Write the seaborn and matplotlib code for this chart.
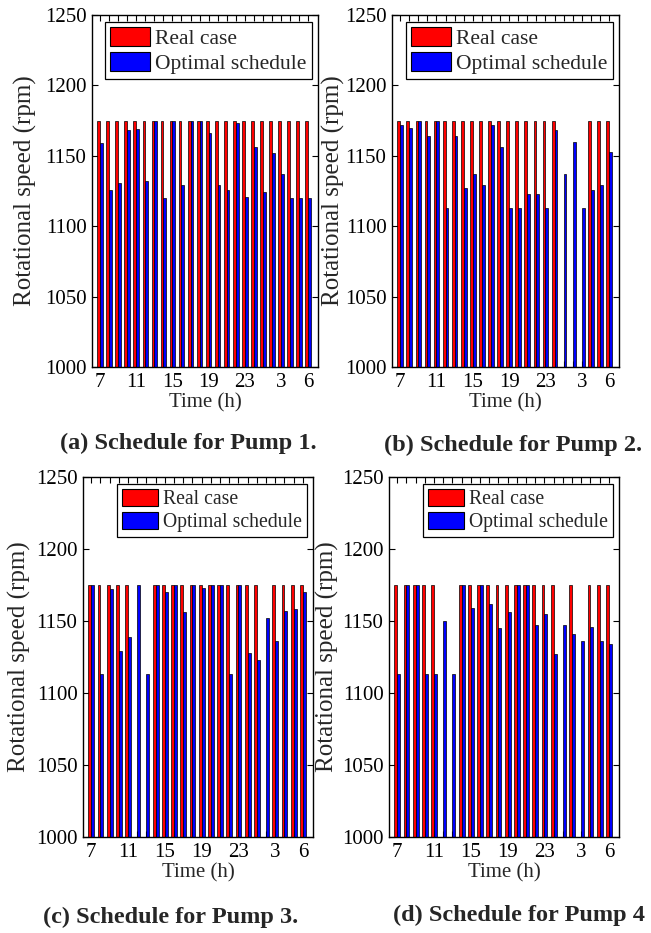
import matplotlib
matplotlib.use("Agg")
import matplotlib.pyplot as plt
import seaborn as sns
import pandas as pd

# ---------------- data ----------------
hour_labels = ['7', '8', '9', '10', '11', '12', '13', '14', '15', '16', '17', '18',
               '19', '20', '21', '22', '23', '0', '1', '2', '3', '4', '5', '6']
shown_ticks = ['7', '11', '15', '19', '23', '3', '6']
series_names = ['Real case', 'Optimal schedule']

p1_real = [1175, 1175, 1175, 1175, 1175, 1175, 1175, 1175, 1175, 1175, 1175, 1175,
           1175, 1175, 1175, 1175, 1175, 1175, 1175, 1175, 1175, 1175, 1175, 1175]
p1_opt = [1159, 1126, 1131, 1168, 1169, 1132, 1175, 1120, 1175, 1129, 1175, 1175,
          1166, 1129, 1126, 1173, 1121, 1156, 1124, 1152, 1137, 1120, 1120, 1120]

p2_real = [1175, 1175, 1175, 1175, 1175, 1175, 1175, 1175, 1175, 1175, 1175, 1175,
           1175, 1175, 1175, 1175, 1175, 1175, 0, 0, 0, 1175, 1175, 1175]
p2_opt = [1172, 1170, 1175, 1164, 1175, 1113, 1164, 1127, 1137, 1129, 1172, 1156,
          1113, 1113, 1123, 1123, 1113, 1168, 1137, 1160, 1113, 1126, 1129, 1153]

p3_real = [1175, 1175, 1175, 1175, 1175, 0, 0, 1175, 1175, 1175, 1175, 1175,
           1175, 1175, 1175, 1175, 1175, 1175, 1175, 0, 1175, 1175, 1175, 1175]
p3_opt = [1175, 1113, 1172, 1129, 1139, 1175, 1113, 1175, 1170, 1175, 1156, 1175,
          1173, 1175, 1175, 1113, 1175, 1128, 1123, 1152, 1136, 1157, 1158, 1170]

p4_real = [1175, 1175, 1175, 1175, 1175, 0, 0, 1175, 1175, 1175, 1175, 1175,
           1175, 1175, 1175, 1175, 1175, 1175, 0, 1175, 0, 1175, 1175, 1175]
p4_opt = [1113, 1175, 1175, 1113, 1113, 1150, 1113, 1175, 1159, 1175, 1162, 1145,
          1156, 1175, 1175, 1147, 1155, 1127, 1147, 1141, 1136, 1146, 1136, 1134]

captions = ['(a) Schedule for Pump 1.', '(b) Schedule for Pump 2.',
            '(c) Schedule for Pump 3.', '(d) Schedule for Pump 4']

# ---------------- style ----------------
sns.set_style('ticks')
plt.rcParams['font.family'] = ['Liberation Serif', 'DejaVu Serif']

W, H = 651, 933
fig = plt.figure(figsize=(W / 100, H / 100), dpi=100)

def frac_box(l, r, t, b):
    return [l / W, 1 - b / H, (r - l) / W, (b - t) / H]

panels = [
    dict(real=p1_real, opt=p1_opt, box=(92, 318, 15, 367), ylab_x=25, legfs=15.5, cap=(188, 443)),
    dict(real=p2_real, opt=p2_opt, box=(392, 619, 15, 367), ylab_x=333, legfs=15.5, cap=(513, 445)),
    dict(real=p3_real, opt=p3_opt, box=(83, 313, 477, 837), ylab_x=19, legfs=14.2, cap=(171, 917)),
    dict(real=p4_real, opt=p4_opt, box=(389, 619, 477, 837), ylab_x=327, legfs=14.2, cap=(519, 915)),
]

palette = {'Real case': '#FF0000', 'Optimal schedule': '#0000FF'}

for p, cap in zip(panels, captions):
    l, r, t, b = p['box']
    ax = fig.add_axes(frac_box(l, r, t, b))
    df = pd.DataFrame({
        'hour': hour_labels + hour_labels,
        'speed': p['real'] + p['opt'],
        'series': [series_names[0]] * len(hour_labels) + [series_names[1]] * len(hour_labels),
    })
    sns.barplot(data=df, x='hour', y='speed', hue='series', order=hour_labels,
                hue_order=series_names, palette=palette, width=0.62, saturation=1,
                edgecolor='black', linewidth=0.5, errorbar=None, ax=ax)
    ax.set_xlim(-0.9, 24.1)
    ax.set_ylim(1000, 1250)
    ax.set_yticks(range(1000, 1251, 50))
    ax.set_xticks(range(len(hour_labels)))
    ax.set_xticklabels([h if h in shown_ticks else '' for h in hour_labels])
    ax.tick_params(direction='in', top=True, right=True, length=4, width=0.8,
                   labelsize=15, colors='black', pad=4)
    for s in ax.spines.values():
        s.set_color('black')
        s.set_linewidth(1.0)
    ax.set_xlabel('Time (h)', fontsize=15, labelpad=1)
    ax.set_ylabel('Rotational speed (rpm)', fontsize=18, va='center')
    ax.yaxis.set_label_coords((p['ylab_x'] - l) / (r - l), 0.5)

    handles, labels = ax.get_legend_handles_labels()
    ax_w, ax_h = r - l, b - t
    leg = ax.legend(handles, labels, loc='upper right',
                    bbox_to_anchor=(1 - 6 / ax_w, 1 - 7 / ax_h),
                    borderaxespad=0, fontsize=p['legfs'], frameon=True,
                    fancybox=False, framealpha=1, edgecolor='black',
                    handlelength=1.85, handleheight=0.95, handletextpad=0.25,
                    labelspacing=0.15, borderpad=0.25)
    leg.get_frame().set_linewidth(0.9)
    for h in leg.legend_handles:
        h.set_linewidth(0.8)

    fig.text(p['cap'][0] / W, 1 - p['cap'][1] / H, cap, ha='center', va='center',
             fontsize=17.5, fontweight='bold')

fig.savefig('out.png', dpi=100)
